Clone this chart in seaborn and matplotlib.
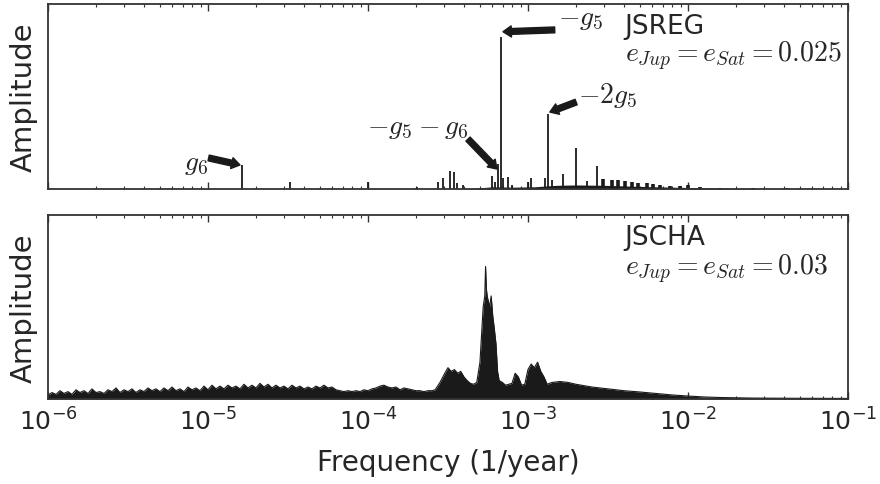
import matplotlib
matplotlib.use("Agg")
import matplotlib.pyplot as plt
import seaborn as sns
import numpy as np

# --- JSREG: discrete spectral lines (frequency in 1/year, normalised amplitude)
reg_freq = [1.625e-5, 3.25e-5, 1.0e-4, 2.02e-4, 2.74e-4, 2.94e-4, 3.25e-4,
            3.45e-4, 3.6e-4, 3.9e-4, 5.96e-4, 6.2e-4, 6.49e-4, 6.75e-4,
            6.98e-4, 7.5e-4, 8.0e-4, 1.0e-3, 1.05e-3, 1.28e-3, 1.34e-3,
            1.41e-3, 1.66e-3, 2.01e-3, 2.34e-3, 2.7e-3]
reg_amp = [0.13, 0.04, 0.04, 0.01, 0.04, 0.06, 0.10,
           0.09, 0.03, 0.02, 0.07, 0.04, 0.135, 0.82,
           0.06, 0.065, 0.02, 0.04, 0.06, 0.06, 0.405,
           0.05, 0.08, 0.22, 0.045, 0.126]

# decaying comb of small lines above 2.7e-3
comb_freq = [2.94e-3, 3.35e-3, 3.65e-3, 4.04e-3, 4.47e-3, 4.87e-3, 5.55e-3,
             6.04e-3, 6.68e-3, 7.72e-3, 8.91e-3, 1.0e-2, 1.19e-2, 1.58e-2,
             2.55e-2, 4.16e-2]
comb_amp = [0.055, 0.05, 0.05, 0.045, 0.04, 0.035, 0.03,
            0.025, 0.02, 0.018, 0.015, 0.02, 0.012, 0.008,
            0.005, 0.004]

# low continuum under the JSREG lines
floor_freq = [4.0e-4, 6.0e-4, 8.0e-4, 1.1e-3, 1.5e-3, 2.0e-3, 3.0e-3,
              5.0e-3, 8.0e-3, 1.5e-2, 3.0e-2]
floor_amp = [0.0, 0.012, 0.01, 0.012, 0.02, 0.022, 0.02,
             0.014, 0.01, 0.005, 0.0]

# --- JSCHA: broad, noisy spectrum (log10 frequency, normalised amplitude)
cha_logf = [-6.000, -5.975, -5.950, -5.925, -5.900, -5.875, -5.850, -5.825, -5.800, -5.775,
            -5.750, -5.725, -5.700, -5.675, -5.650, -5.625, -5.600, -5.575, -5.550, -5.525,
            -5.500, -5.475, -5.450, -5.425, -5.400, -5.375, -5.350, -5.325, -5.300, -5.275,
            -5.250, -5.225, -5.200, -5.175, -5.150, -5.125, -5.100, -5.075, -5.050, -5.025,
            -5.000, -4.975, -4.950, -4.925, -4.900, -4.875, -4.850, -4.825, -4.800, -4.775,
            -4.750, -4.725, -4.700, -4.675, -4.650, -4.625, -4.600, -4.575, -4.550, -4.525,
            -4.500, -4.475, -4.450, -4.425, -4.400, -4.375, -4.350, -4.325, -4.300, -4.275,
            -4.250, -4.225, -4.200, -4.175, -4.150, -4.125, -4.100, -4.075, -4.050, -4.025,
            -4.000, -3.975, -3.950, -3.925, -3.900, -3.875, -3.850, -3.825, -3.800, -3.775,
            -3.750, -3.725, -3.700, -3.675, -3.650, -3.625,
            -3.60, -3.58, -3.55, -3.52, -3.50, -3.48, -3.46, -3.44, -3.42, -3.40,
            -3.38, -3.36, -3.34, -3.32, -3.30, -3.29, -3.28, -3.27, -3.265, -3.26,
            -3.255, -3.25, -3.24, -3.23, -3.22, -3.21, -3.20, -3.19, -3.18, -3.16,
            -3.14, -3.12, -3.10, -3.08, -3.06, -3.04, -3.02, -3.00, -2.98, -2.96,
            -2.94, -2.92, -2.90, -2.88, -2.85, -2.80, -2.75, -2.70, -2.60, -2.50,
            -2.40, -2.30, -2.20, -2.10, -2.00, -1.90, -1.80, -1.60, -1.40, -1.00]
cha_amp = [0.02, 0.035, 0.025, 0.045, 0.03, 0.04, 0.025, 0.05, 0.035, 0.045,
           0.03, 0.055, 0.035, 0.04, 0.03, 0.05, 0.04, 0.06, 0.035, 0.05,
           0.04, 0.055, 0.035, 0.05, 0.04, 0.06, 0.045, 0.055, 0.04, 0.06,
           0.045, 0.065, 0.045, 0.055, 0.04, 0.065, 0.05, 0.06, 0.045, 0.07,
           0.05, 0.075, 0.055, 0.07, 0.055, 0.075, 0.06, 0.07, 0.055, 0.08,
           0.06, 0.075, 0.06, 0.085, 0.065, 0.08, 0.06, 0.075, 0.06, 0.07,
           0.055, 0.075, 0.06, 0.07, 0.055, 0.065, 0.055, 0.07, 0.06, 0.075,
           0.06, 0.065, 0.05, 0.045, 0.04, 0.045, 0.04, 0.045, 0.04, 0.05,
           0.045, 0.055, 0.06, 0.07, 0.075, 0.065, 0.06, 0.065, 0.05, 0.06,
           0.055, 0.05, 0.045, 0.045, 0.04, 0.045,
           0.045, 0.05, 0.09, 0.14, 0.17, 0.15, 0.16, 0.14, 0.15, 0.12,
           0.10, 0.085, 0.08, 0.09, 0.20, 0.35, 0.50, 0.56, 0.72, 0.60,
           0.56, 0.54, 0.50, 0.56, 0.45, 0.38, 0.30, 0.15, 0.10, 0.09,
           0.075, 0.08, 0.085, 0.14, 0.12, 0.075, 0.08, 0.16, 0.19, 0.17,
           0.20, 0.15, 0.12, 0.08, 0.09, 0.095, 0.09, 0.08, 0.065, 0.055,
           0.045, 0.038, 0.03, 0.022, 0.016, 0.011, 0.008, 0.005, 0.004, 0.003]

xticks = [1e-6, 1e-5, 1e-4, 1e-3, 1e-2, 1e-1]
xtick_labels = [r"$\mathregular{10^{-6}}$", r"$\mathregular{10^{-5}}$",
                r"$\mathregular{10^{-4}}$", r"$\mathregular{10^{-3}}$",
                r"$\mathregular{10^{-2}}$", r"$\mathregular{10^{-1}}$"]

sns.set_style("ticks")
plt.rcParams["font.family"] = ["DejaVu Sans"]
plt.rcParams["mathtext.fontset"] = "cm"

ink = "#1a1a1a"
fig = plt.figure(figsize=(8.8, 4.85), dpi=100)
ax1 = fig.add_axes([0.0545, 0.6082, 0.9091, 0.3815])
ax2 = fig.add_axes([0.0545, 0.1753, 0.9091, 0.3793])

# top panel
ax1.fill_between(floor_freq, 0, floor_amp, color=ink, lw=0)
ax1.vlines(reg_freq, 0, reg_amp, color=ink, lw=1.3)
ax1.vlines(comb_freq, 0, comb_amp, color=ink, lw=2.6)

arrow = dict(facecolor=ink, edgecolor=ink, width=4.2, headwidth=8,
             headlength=6, shrink=0)
ax1.annotate("", xy=(1.585e-5, 0.13), xytext=(1.01e-5, 0.168), arrowprops=arrow)
ax1.annotate("", xy=(6.4e-4, 0.108), xytext=(4.22e-4, 0.27), arrowprops=arrow)
ax1.annotate("", xy=(6.98e-4, 0.85), xytext=(1.47e-3, 0.86), arrowprops=arrow)
ax1.annotate("", xy=(1.37e-3, 0.416), xytext=(2.0e-3, 0.47), arrowprops=arrow)
ax1.text(8.41e-6, 0.146, r"$g_6$", fontsize=20, ha="center", va="center")
ax1.text(2.05e-4, 0.34, r"$-g_5-g_6$", fontsize=20, ha="center", va="center")
ax1.text(2.14e-3, 0.93, r"$-g_5$", fontsize=20, ha="center", va="center")
ax1.text(3.16e-3, 0.51, r"$-2g_5$", fontsize=20, ha="center", va="center")

ax1.text(0.721, 0.95, "JSREG", transform=ax1.transAxes, fontsize=19,
         ha="left", va="top")
ax1.text(0.721, 0.72, r"$e_{Jup}=e_{Sat}=0.025$", transform=ax1.transAxes,
         fontsize=20, ha="left", va="center")

# bottom panel
cha_freq = np.power(10.0, cha_logf)
sns.lineplot(x=cha_freq, y=cha_amp, ax=ax2, color=ink, lw=0.8, estimator=None)
ax2.fill_between(cha_freq, 0, cha_amp, color=ink, lw=0)
ax2.text(0.721, 0.95, "JSCHA", transform=ax2.transAxes, fontsize=19,
         ha="left", va="top")
ax2.text(0.721, 0.71, r"$e_{Jup}=e_{Sat}=0.03$", transform=ax2.transAxes,
         fontsize=20, ha="left", va="center")

for ax in (ax1, ax2):
    ax.set_xscale("log")
    ax.set_xlim(1e-6, 1e-1)
    ax.set_ylim(0, 1)
    ax.set_yticks([])
    ax.set_ylabel("Amplitude", fontsize=21, labelpad=7)
    ax.tick_params(axis="x", which="both", direction="in", top=True,
                   bottom=True, color="#333333")
    ax.tick_params(axis="x", which="major", length=5, width=1)
    ax.tick_params(axis="x", which="minor", length=2.5, width=0.8)
    for sp in ax.spines.values():
        sp.set_color("#333333")
        sp.set_linewidth(1.3)

ax1.set_xticks(xticks)
ax1.set_xticklabels([])
ax2.set_xticks(xticks)
ax2.set_xticklabels(xtick_labels, fontsize=18)
ax2.tick_params(axis="x", which="major", pad=6)
ax2.set_xlabel("Frequency (1/year)", fontsize=20, labelpad=10)

fig.savefig("out.png", dpi=100)
